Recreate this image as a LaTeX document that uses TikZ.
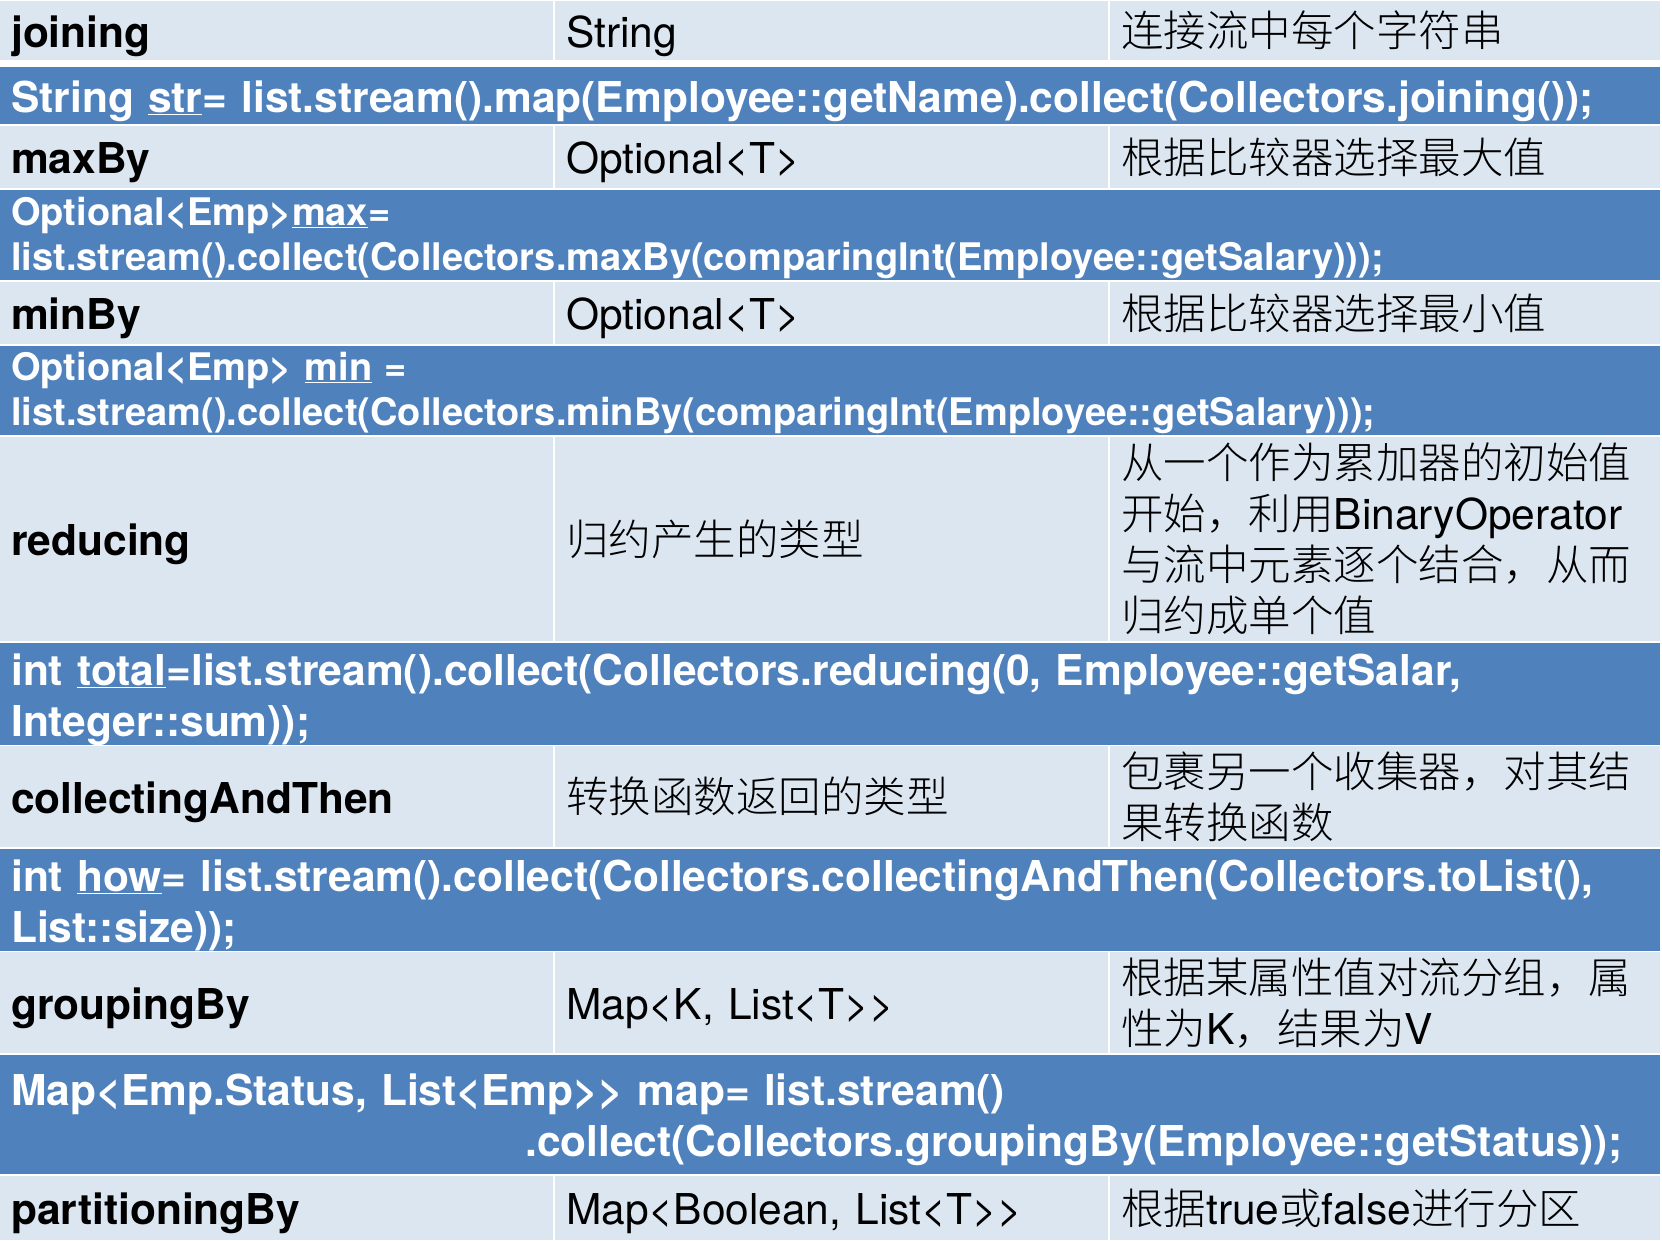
\documentclass[tikz,border=0pt]{standalone}
\usepackage{fontspec}
\setmainfont{TeX Gyre Heros}
\newfontfamily\cjk{Noto Sans CJK SC}[UprightFont=* Light]
\definecolor{rowlight}{RGB}{220,230,241}
\definecolor{rowdark}{RGB}{79,129,189}
\newcommand{\zh}[1]{{\cjk #1}}
\newcommand{\cellstrut}{\rule[-4pt]{0pt}{46pt}}
\newcommand{\smallstrut}{\rule[-4pt]{0pt}{37pt}}
\begin{document}
\begin{tikzpicture}[x=1pt,y=-1pt,
plaincell/.style={anchor=north west, fill=rowlight, inner xsep=11pt, inner ysep=0pt, text width=531pt, align=left, font=\fontsize{42.5}{51}\selectfont},
latincell/.style={plaincell, execute at begin node=\cellstrut},
keycell/.style={latincell, font=\fontsize{42.5}{51}\selectfont\bfseries},
codecell/.style={latincell, fill=rowdark, text=white, text width=1638pt, font=\fontsize{42.5}{51}\selectfont\bfseries},
smallcode/.style={plaincell, fill=rowdark, text=white, text width=1638pt, font=\fontsize{38}{45}\selectfont\bfseries, execute at begin node=\smallstrut}]
\fill[white] (0,0) rectangle (1662,1240);

% joining
\node (join1) at (0,1) [keycell, minimum height=59pt] {joining};
\node (join2) at (555,1) [latincell, minimum height=59pt] {String};
\node (join3) at (1110,1) [plaincell, text width=528pt, minimum height=59pt] {\zh{连接流中每个字符串}};
\node (joincode) at (0,67) [codecell, minimum height=57pt] {String \underline{str}= list.stream().map(Employee::getName).collect(Collectors.joining());};

% maxBy
\node (max1) at (0,126) [keycell, minimum height=62pt] {maxBy};
\node (max2) at (555,126) [latincell, minimum height=62pt] {Optional<T>};
\node (max3) at (1110,126) [plaincell, text width=528pt, minimum height=62pt] {\zh{根据比较器选择最大值}};
\node (maxcode) at (0,190) [smallcode, minimum height=90pt] {Optional<Emp>\underline{max}=\\list.stream().collect(Collectors.maxBy(comparingInt(Employee::getSalary)));};

% minBy
\node (min1) at (0,282) [keycell, minimum height=62pt] {minBy};
\node (min2) at (555,282) [latincell, minimum height=62pt] {Optional<T>};
\node (min3) at (1110,282) [plaincell, text width=528pt, minimum height=62pt] {\zh{根据比较器选择最小值}};
\node (mincode) at (0,346) [smallcode, minimum height=89pt] {Optional<Emp> \underline{min} =\\list.stream().collect(Collectors.minBy(comparingInt(Employee::getSalary)));};

% reducing
\node (red1) at (0,437) [keycell, minimum height=204pt] {reducing};
\node (red2) at (555,437) [plaincell, minimum height=204pt] {\zh{归约产生的类型}};
\node (red3) at (1110,437) [plaincell, text width=528pt, minimum height=204pt] {\zh{从一个作为累加器的初始值}\\\zh{开始，利用}BinaryOperator\\\zh{与流中元素逐个结合，从而}\\\zh{归约成单个值}};
\node (redcode) at (0,643) [codecell, minimum height=101pt] {int \underline{total}=list.stream().collect(Collectors.reducing(0, Employee::getSalar,\\Integer::sum));};

% collectingAndThen
\node (then1) at (0,746) [keycell, minimum height=101pt] {collectingAndThen};
\node (then2) at (555,746) [plaincell, minimum height=101pt] {\zh{转换函数返回的类型}};
\node (then3) at (1110,746) [plaincell, text width=528pt, minimum height=101pt] {\zh{包裹另一个收集器，对其结}\\\zh{果转换函数}};
\node (thencode) at (0,849) [codecell, minimum height=101pt] {int \underline{how}= list.stream().collect(Collectors.collectingAndThen(Collectors.toList(),\\List::size));};

% groupingBy
\node (group1) at (0,952) [keycell, minimum height=101pt] {groupingBy};
\node (group2) at (555,952) [latincell, minimum height=101pt] {Map<K, List<T>{}>};
\node (group3) at (1110,952) [plaincell, text width=528pt, minimum height=101pt] {\zh{根据某属性值对流分组，属}\\\zh{性为}K\zh{，结果为}V};
\node (groupcode) at (0,1055) [codecell, minimum height=119pt] {Map<Emp.Status, List<Emp>{}> map= list.stream()\\\hspace*{514pt}.collect(Collectors.groupingBy(Employee::getStatus));};

% partitioningBy
\node (part1) at (0,1176) [keycell, minimum height=64pt] {partitioningBy};
\node (part2) at (555,1176) [latincell, minimum height=64pt] {Map<Boolean, List<T>{}>};
\node (part3) at (1110,1176) [plaincell, text width=528pt, minimum height=64pt] {\zh{根据}true\zh{或}false\zh{进行分区}};
\end{tikzpicture}
\end{document}
